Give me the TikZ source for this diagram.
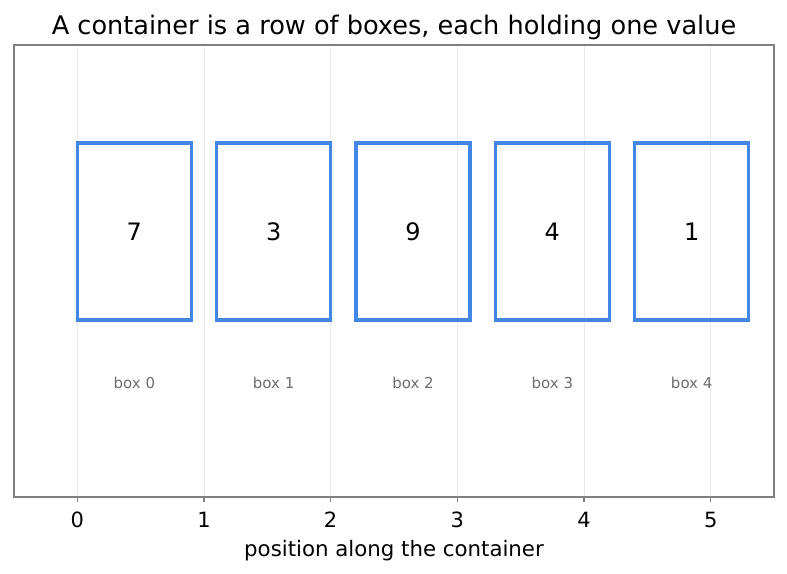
\documentclass[tikz,border=0pt]{standalone}
\usepackage{fontspec}
\setmainfont{DejaVu Sans}
\definecolor{boxblue}{HTML}{4286E6}
\definecolor{framegray}{HTML}{808080}
\definecolor{gridgray}{HTML}{EBEBEB}
\definecolor{labelgray}{HTML}{6E6E6E}
\tikzset{
  valbox/.style={draw=boxblue, line width=3.5pt, minimum width=114pt, minimum height=177pt, inner sep=0pt, font=\fontsize{24}{24}\selectfont},
  boxlabel/.style={text=labelgray, inner sep=0pt, font=\fontsize{15}{15}\selectfont},
  ticklabel/.style={inner sep=0pt, anchor=base, font=\fontsize{21}{21}\selectfont},
  gridline/.style={draw=gridgray, line width=0.8pt},
  tickmark/.style={draw=framegray, line width=1.2pt},
}
\begin{document}
\begin{tikzpicture}[x=1pt,y=-1pt]
\useasboundingbox (0,0) rectangle (787,573);
\fill[white] (0,0) rectangle (787,573);
% grid lines
\foreach \i in {0,...,5} {
  \draw[gridline] ({77.33+126.67*\i},45) -- ({77.33+126.67*\i},497);
}
% frame
\draw[framegray, line width=1.2pt] (14,45) rectangle (774,497);
% ticks and labels
\foreach \i in {0,...,5} {
  \draw[tickmark] ({77.33+126.67*\i},497) -- ({77.33+126.67*\i},502);
  \node[ticklabel] (t\i) at ({77.33+126.67*\i},527.5) {\i};
}
% boxes
\foreach \v [count=\i from 0] in {7,3,9,4,1} {
  \node[valbox] (b\i) at ({77.33+126.67*(1.1*\i+0.45)},231.5) {\v};
  \node[boxlabel] (l\i) at ({77.33+126.67*(1.1*\i+0.45)},383) {box \i};
}
% title and axis label
\node[inner sep=0pt, anchor=base, font=\fontsize{25.6}{25.6}\selectfont] (title) at (394,34) {A container is a row of boxes, each holding one value};
\node[inner sep=0pt, anchor=base, font=\fontsize{21.3}{21.3}\selectfont] (xlab) at (394,556) {position along the container};
\end{tikzpicture}
\end{document}
